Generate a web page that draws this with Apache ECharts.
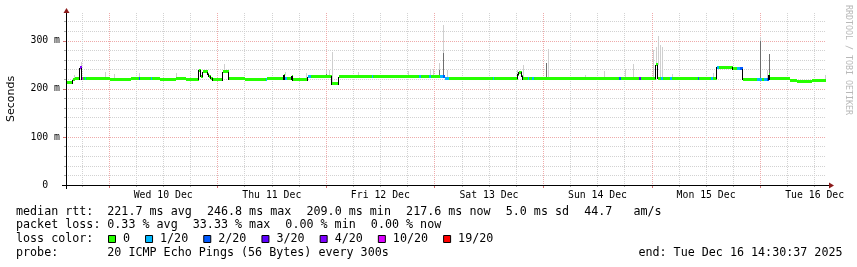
<!DOCTYPE html>
<html><head><meta charset="utf-8">
<script src="https://cdn.jsdelivr.net/npm/echarts@6/dist/echarts.min.js"></script>
<style>html,body{margin:0;padding:0;background:#fff}#c{width:857px;height:267px}</style>
</head><body><div id="c"></div>
<script>
// ---- time axis: hours since Tue 9 Dec 00:00 ----
const startHour = 14.51;   // Tue 9 Dec 14:30:37
const endHour = 182.51;    // Tue 16 Dec 14:30:37
const dayLabels = ['Wed 10 Dec','Thu 11 Dec','Fri 12 Dec','Sat 13 Dec','Sun 14 Dec','Mon 15 Dec','Tue 16 Dec'];
const dayLabelHours = [36,60,84,108,132,156,180];
const midnightHours = [24,48,72,96,120,144,168];
const minorHours = [18,30,36,42,54,60,66,78,84,90,102,108,114,126,132,138,150,156,162,174,180];
// ---- y axis (ms) ----
const yMax = 358;
const yLabelValues = [0,100,200,300];
const yLabelTexts = ['0  ','100 m','200 m','300 m'];
const yMajor = [100,200,300];
const yMinor = [20,40,60,80,120,140,160,180,220,240,260,280,320,340];
// ---- median rtt, as steps: start hour, median (ms), loss colour index ----
const segStart = [14.51,15.95,16.50,17.60,17.94,18.16,18.60,18.93,20.92,24.24,26.89,28.88,30.54,30.87,33.30,33.63,35.29,38.83,41.04,43.91,44.46,44.79,45.79,46.12,46.56,47.01,49.22,50.65,54.08,58.72,59.05,62.59,63.03,63.47,64.36,64.69,68.01,68.56,70.22,73.20,74.75,77.29,82.15,82.48,86.13,92.65,92.98,94.86,95.19,97.29,97.85,98.29,99.17,103.82,108.79,109.12,111.55,114.32,114.65,115.20,115.53,116.53,116.86,117.63,117.96,123.71,130.34,136.75,137.19,141.28,141.62,145.04,145.48,146.04,146.48,147.92,148.47,154.11,154.44,157.09,157.53,158.42,158.75,161.95,162.73,163.50,164.16,167.26,168.36,168.81,169.47,169.80,170.13,174.55,176.10,179.42,181.18];
const segMedian = [213,219,221,244,221,222,222,221,222,220,219,221,221,221,221,221,220,222,220,239,226,236,230,226,222,219,236,221,220,220,221,228,221,221,226,219,225,225,226,211,225,226,226,226,225,225,225,225,225,225,225,222,222,221,221,221,222,230,235,226,221,221,221,221,221,222,221,221,221,222,222,250,222,222,222,222,222,222,222,222,222,245,245,242,242,242,220,220,220,220,220,229,221,218,216,217,218];
const segLoss = [0,0,0,4,5,0,1,0,0,0,0,0,2,0,1,0,0,0,0,0,0,0,0,0,0,0,0,0,0,1,0,0,1,0,0,0,1,0,0,0,0,0,1,0,0,1,0,1,0,1,2,1,0,0,1,0,0,0,0,0,0,1,0,1,0,0,0,2,0,3,0,0,0,1,0,1,0,2,0,1,0,1,0,0,1,2,0,1,0,1,2,0,0,0,0,0,0];
// ---- smoke spikes: hour, top of smoke (ms), top of darker smoke (ms, 0 = none) ----
const smokeHour = [16.28,17.83,23.20,25.19,30.71,38.76,49.50,62.92,67.50,71.92,72.71,73.38,79.12,90.04,94.97,95.70,97.03,97.91,98.67,114.27,115.60,120.62,121.12,129.24,133.50,138.08,139.78,144.33,145.04,145.44,145.71,146.15,148.40,157.47,167.92,169.40,169.98,182.29];
const smokeTop  = [229,255,236,231,234,234,252,236,234,240,240,276,235,238,242,242,253,333,240,240,250,253,283,229,237,241,252,280,287,311,292,287,231,234,308,240,273,229];
const smokeMid  = [0,244,0,0,0,0,0,0,0,232,0,0,0,0,0,0,240,274,0,0,0,253,0,0,0,0,0,0,0,250,0,0,0,0,300,0,273,0];
// ---- legend / statistics ----
const lossLabels = ['0','1/20','2/20','3/20','4/20','10/20','19/20'];
const lossColors = ['#26ff00','#00b8ff','#0059ff','#5e00ff','#7e00ff','#dd00ff','#ff0000'];
const rowTitles = ['median rtt:','packet loss:','loss color:','probe:'];
const rttStats = ['221.7 ms avg','246.8 ms max','209.0 ms min','217.6 ms now','5.0 ms sd','44.7   am/s'];
const lossStats = ['0.33 % avg','33.33 % max','0.00 % min','0.00 % now'];
const probeText = '20 ICMP Echo Pings (56 Bytes) every 300s';
const endText = 'end: Tue Dec 16 14:30:37 2025';
const yTitle = 'Seconds';
const watermark = 'RRDTOOL / TOBI OETIKER';

// ---------------------------------------------------------------
const mono = "'DejaVu Sans Mono', monospace";
const FS = 11.7, CW = 7.05, GAP = 15;
const rowY = [211.8, 225.3, 239.3, 253.4];
const colX = 107.3;

function medianAt(h){
  let v = segMedian[0];
  for (let i=0;i<segStart.length;i++){ if (segStart[i] <= h) v = segMedian[i]; else break; }
  return v;
}
const segData = segStart.map((h,i)=>[h, i+1<segStart.length?segStart[i+1]:endHour, segMedian[i], segLoss[i], i>0?segMedian[i-1]:segMedian[i]]);
const smokeData = smokeHour.map((h,i)=>[h, medianAt(h), smokeTop[i], smokeMid[i]]);

const chart = echarts.init(document.getElementById('c'), null, {renderer:'canvas'});

const graphics = [];
function txt(x,y,s,opt){
  graphics.push(Object.assign({type:'text', x:x, y:y, z:100, silent:true,
    style:Object.assign({text:s, font:FS+'px '+mono, fill:'#000', align:'left', verticalAlign:'middle'}, (opt&&opt.style)||{})},
    opt&&opt.el||{}));
}
rowTitles.forEach((t,i)=>txt(16,rowY[i],t));
let x = colX;
rttStats.forEach(s=>{ txt(x,rowY[0],s); x += s.length*CW + GAP; });
x = colX;
lossStats.forEach(s=>{ txt(x,rowY[1],s); x += s.length*CW + GAP; });
x = 108;
lossLabels.forEach((s,i)=>{
  graphics.push({type:'rect', z:100, silent:true, shape:{x:x+0.5,y:235.5,width:7,height:7}, style:{fill:lossColors[i], stroke:'#000', lineWidth:1}});
  txt(x+15,rowY[2],s);
  x += 15 + s.length*CW + GAP;
});
txt(colX,rowY[3],probeText);
txt(842.5,rowY[3],endText,{style:{align:'right'}});
graphics.push({type:'text', x:11, y:99, rotation:Math.PI/2, z:100, silent:true,
  style:{text:yTitle, font:"11px 'DejaVu Sans', sans-serif", fill:'#000', align:'center', verticalAlign:'middle'}});
graphics.push({type:'text', x:848, y:60, rotation:-Math.PI/2, z:100, silent:true,
  style:{text:watermark, font:"8.3px "+mono, fill:'#b8b8b8', align:'center', verticalAlign:'middle'}});
graphics.push({type:'line', z:100, silent:true, shape:{x1:62,y1:185.5,x2:830,y2:185.5}, style:{stroke:'#000',lineWidth:1}});
graphics.push({type:'line', z:100, silent:true, shape:{x1:66.5,y1:189,x2:66.5,y2:11}, style:{stroke:'#000',lineWidth:1}});
graphics.push({type:'polygon', z:101, silent:true, shape:{points:[[829,182.5],[829,188.5],[834,185.5]]}, style:{fill:'#8b1a1a'}});
graphics.push({type:'polygon', z:101, silent:true, shape:{points:[[63.5,13],[69.5,13],[66.5,8]]}, style:{fill:'#8b1a1a'}});

const gridGray = '#d2d2d2', gridRed = '#eeaaaa';
const hiddenX = {type:'value', min:startHour, max:endHour, position:'bottom', axisLine:{show:false}, axisLabel:{show:false}};
const hiddenY = {type:'value', min:0, max:yMax, position:'left', axisLine:{show:false}, axisLabel:{show:false}};

chart.setOption({
  animation:false,
  backgroundColor:'#fff',
  grid:{left:66, top:13, width:760, height:172, containLabel:false},
  xAxis:[
    {type:'value', min:startHour, max:endHour, position:'bottom', axisLine:{show:false}, axisTick:{show:false}, splitLine:{show:false},
     axisLabel:{customValues:dayLabelHours, formatter:v=>{const k=dayLabelHours.indexOf(Math.round(v)); return k>=0?dayLabels[k]:'';},
       fontFamily:mono, fontSize:9.8, color:'#000', margin:5}},
    Object.assign({}, hiddenX, {axisTick:{show:true, customValues:minorHours, length:2, lineStyle:{color:'#aaa'}},
       splitLine:{show:true, lineStyle:{color:gridGray, type:'dotted', width:1}}}),
    Object.assign({}, hiddenX, {axisTick:{show:true, customValues:midnightHours, length:3, lineStyle:{color:'#d07070'}},
       splitLine:{show:true, lineStyle:{color:gridRed, type:'dotted', width:1}}})
  ],
  yAxis:[
    {type:'value', min:0, max:yMax, position:'left', axisLine:{show:false}, axisTick:{show:false}, splitLine:{show:false},
     axisLabel:{customValues:yLabelValues, formatter:v=>{const k=yLabelValues.indexOf(Math.round(v)); return k>=0?yLabelTexts[k]:'';},
       fontFamily:mono, fontSize:9.8, color:'#000', margin:6}},
    Object.assign({}, hiddenY, {axisTick:{show:true, customValues:yMinor, length:2, lineStyle:{color:'#aaa'}},
       splitLine:{show:true, lineStyle:{color:gridGray, type:'dotted', width:1}}}),
    Object.assign({}, hiddenY, {axisTick:{show:true, customValues:yMajor, length:3, lineStyle:{color:'#d07070'}},
       splitLine:{show:true, lineStyle:{color:gridRed, type:'dotted', width:1}}})
  ],
  graphic:{elements:graphics},
  series:[
    {type:'custom', name:'smoke', xAxisIndex:0, yAxisIndex:0, z:3, silent:true, data:smokeData,
     renderItem:(params, api)=>{
       const h = api.value(0);
       const pb = api.coord([h, api.value(1)]);
       const pt = api.coord([h, api.value(2)]);
       const px = Math.round(pb[0]);
       const ch = [{type:'rect', shape:{x:px, y:Math.round(pt[1]), width:1, height:Math.round(pb[1])-Math.round(pt[1])}, style:{fill:'#cfcfcf'}}];
       if (api.value(3) > 0) {
         const pm = api.coord([h, api.value(3)]);
         ch.push({type:'rect', shape:{x:px, y:Math.round(pm[1]), width:1, height:Math.round(pb[1])-Math.round(pm[1])}, style:{fill:'#6e6e6e'}});
       }
       return {type:'group', children:ch};
     }},
    {type:'custom', name:'median', xAxisIndex:0, yAxisIndex:0, z:4, silent:true, data:segData,
     renderItem:(params, api)=>{
       const p1 = api.coord([api.value(0), api.value(2)]);
       const p2 = api.coord([api.value(1), api.value(2)]);
       const pp = api.coord([api.value(0), api.value(4)]);
       const x1 = Math.round(p1[0]), x2 = Math.max(Math.round(p2[0]), x1+1);
       const ch = [];
       const ya = Math.round(Math.min(pp[1], p1[1])), yb = Math.round(Math.max(pp[1], p1[1]));
       if (yb - ya >= 2) ch.push({type:'rect', shape:{x:x1-1, y:ya, width:1, height:yb-ya+1}, style:{fill:'#000'}});
       ch.push({type:'rect', shape:{x:x1, y:Math.round(p1[1]-1.5), width:x2-x1, height:3}, style:{fill:lossColors[api.value(3)]}});
       return {type:'group', children:ch};
     }}
  ]
});
</script></body></html>
